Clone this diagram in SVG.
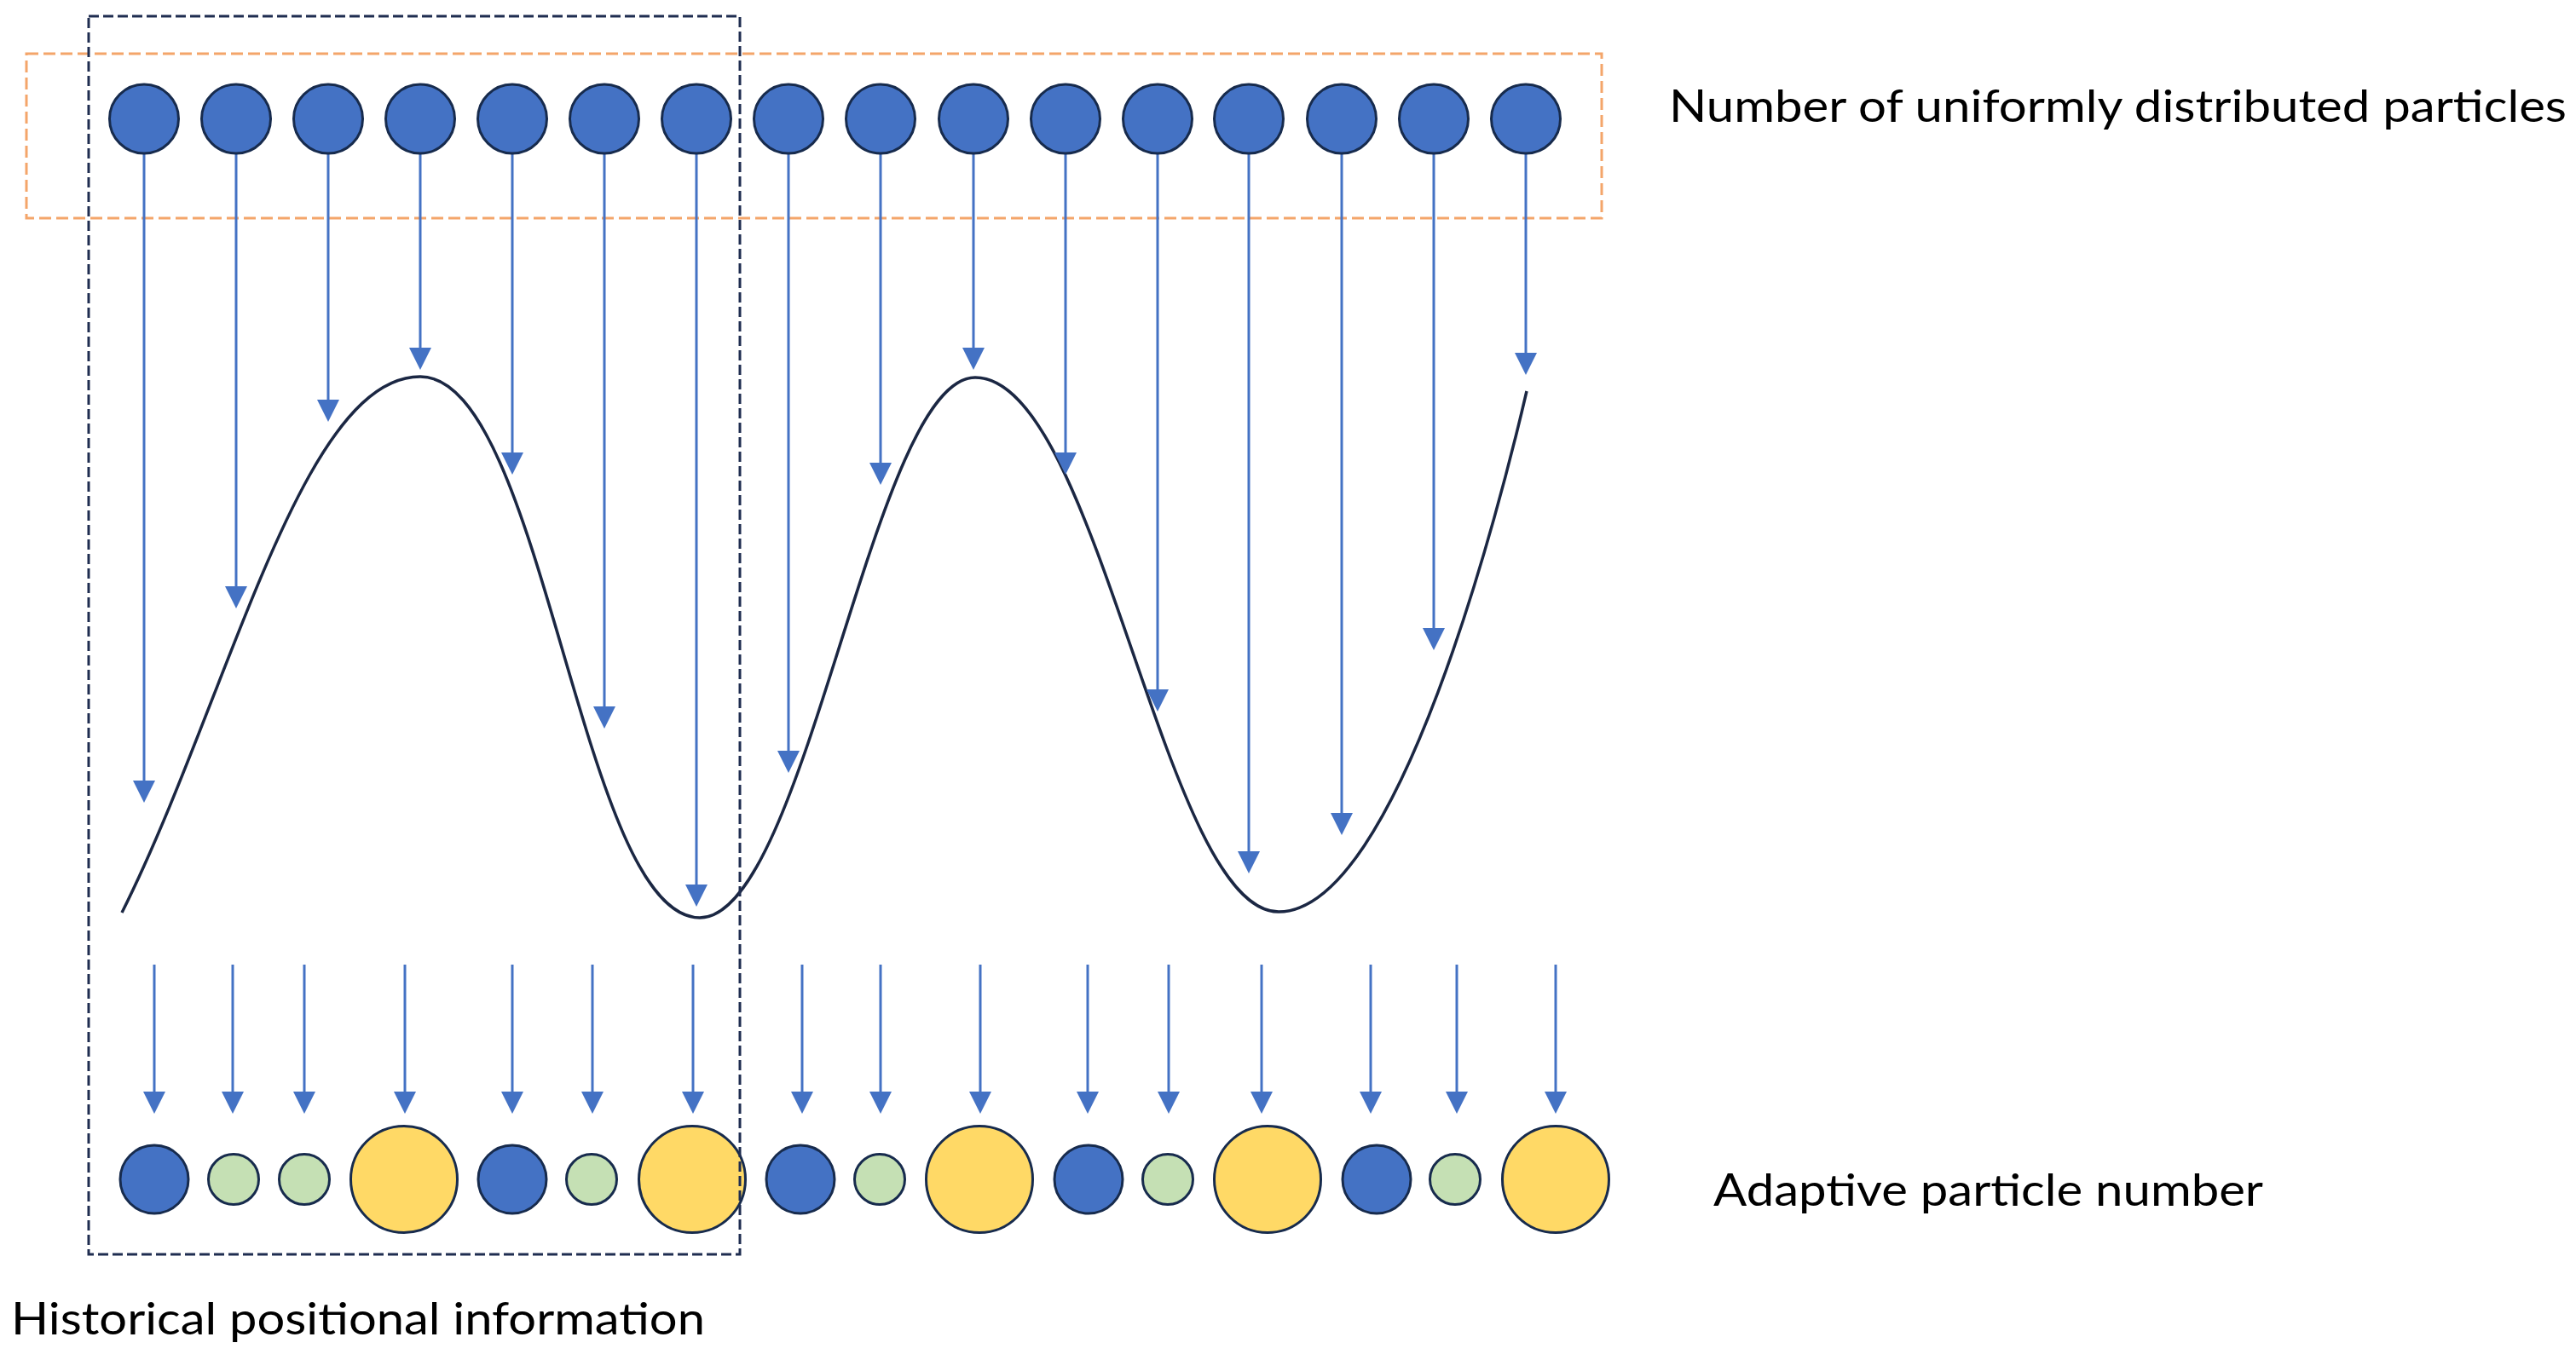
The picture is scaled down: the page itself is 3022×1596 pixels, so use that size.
<svg xmlns="http://www.w3.org/2000/svg" width="3022" height="1596" viewBox="0 0 3022 1596">
<style>
.bg{fill:#ffffff}
.p{stroke:#172B4D;stroke-width:3}
.blue{fill:#4472C4}
.green{fill:#C5E0B4}
.yellow{fill:#FFD966}
.arr{stroke:#4472C4;stroke-width:3;fill:none;marker-end:url(#ah)}
.curve{fill:none;stroke:#1B2743;stroke-width:3.5}
.hbox{fill:none;stroke:#1F2D50;stroke-width:3;stroke-dasharray:12 5}
.ubox{fill:none;stroke:#F4A56A;stroke-width:3;stroke-dasharray:14 6}
.lbl{font-family:Lato,"Open Sans","Liberation Sans",sans-serif;font-size:53px;fill:#000000}
</style>
<defs>
<marker id="ah" markerUnits="userSpaceOnUse" markerWidth="28" markerHeight="28" refX="2" refY="13" orient="auto">
<path d="M0,0 L26,13 L0,26 z" fill="#4472C4"/>
</marker>
</defs>
<rect class="bg" x="0" y="0" width="3022" height="1596"/>

<g id="uniform-box"><rect class="ubox" x="31" y="63" width="1848" height="193"/></g>

<g id="curve"><path class="curve" d="M143,1071 C268,821 353,442 493,442 C638,442 681,1077 821,1077 C946,1077 1024,443 1144,443 C1289,443 1365,1070 1500,1070 C1640,1070 1761,588 1791,459"/></g>

<g id="connectors">
<line class="arr" x1="169" y1="180" x2="169" y2="918"/>
<line class="arr" x1="277" y1="180" x2="277" y2="690"/>
<line class="arr" x1="385" y1="180" x2="385" y2="471"/>
<line class="arr" x1="493" y1="180" x2="493" y2="410"/>
<line class="arr" x1="601" y1="180" x2="601" y2="533"/>
<line class="arr" x1="709" y1="180" x2="709" y2="831"/>
<line class="arr" x1="817" y1="180" x2="817" y2="1040"/>
<line class="arr" x1="925" y1="180" x2="925" y2="883"/>
<line class="arr" x1="1033" y1="180" x2="1033" y2="545"/>
<line class="arr" x1="1142" y1="180" x2="1142" y2="410"/>
<line class="arr" x1="1250" y1="180" x2="1250" y2="533"/>
<line class="arr" x1="1358" y1="180" x2="1358" y2="811"/>
<line class="arr" x1="1465" y1="180" x2="1465" y2="1001"/>
<line class="arr" x1="1574" y1="180" x2="1574" y2="956"/>
<line class="arr" x1="1682" y1="180" x2="1682" y2="739"/>
<line class="arr" x1="1790" y1="180" x2="1790" y2="416"/>

<line class="arr" x1="181" y1="1132" x2="181" y2="1283"/>
<line class="arr" x1="273" y1="1132" x2="273" y2="1283"/>
<line class="arr" x1="357" y1="1132" x2="357" y2="1283"/>
<line class="arr" x1="475" y1="1132" x2="475" y2="1283"/>
<line class="arr" x1="601" y1="1132" x2="601" y2="1283"/>
<line class="arr" x1="695" y1="1132" x2="695" y2="1283"/>
<line class="arr" x1="813" y1="1132" x2="813" y2="1283"/>
<line class="arr" x1="941" y1="1132" x2="941" y2="1283"/>
<line class="arr" x1="1033" y1="1132" x2="1033" y2="1283"/>
<line class="arr" x1="1150" y1="1132" x2="1150" y2="1283"/>
<line class="arr" x1="1276" y1="1132" x2="1276" y2="1283"/>
<line class="arr" x1="1371" y1="1132" x2="1371" y2="1283"/>
<line class="arr" x1="1480" y1="1132" x2="1480" y2="1283"/>
<line class="arr" x1="1608" y1="1132" x2="1608" y2="1283"/>
<line class="arr" x1="1709" y1="1132" x2="1709" y2="1283"/>
<line class="arr" x1="1825" y1="1132" x2="1825" y2="1283"/>
</g>

<g id="top-particles">
<g id="top-p1"><circle class="p blue" cx="169" cy="139.5" r="40.5"/></g>
<g id="top-p2"><circle class="p blue" cx="277" cy="139.5" r="40.5"/></g>
<g id="top-p3"><circle class="p blue" cx="385" cy="139.5" r="40.5"/></g>
<g id="top-p4"><circle class="p blue" cx="493" cy="139.5" r="40.5"/></g>
<g id="top-p5"><circle class="p blue" cx="601" cy="139.5" r="40.5"/></g>
<g id="top-p6"><circle class="p blue" cx="709" cy="139.5" r="40.5"/></g>
<g id="top-p7"><circle class="p blue" cx="817" cy="139.5" r="40.5"/></g>
<g id="top-p8"><circle class="p blue" cx="925" cy="139.5" r="40.5"/></g>
<g id="top-p9"><circle class="p blue" cx="1033" cy="139.5" r="40.5"/></g>
<g id="top-p10"><circle class="p blue" cx="1142" cy="139.5" r="40.5"/></g>
<g id="top-p11"><circle class="p blue" cx="1250" cy="139.5" r="40.5"/></g>
<g id="top-p12"><circle class="p blue" cx="1358" cy="139.5" r="40.5"/></g>
<g id="top-p13"><circle class="p blue" cx="1465" cy="139.5" r="40.5"/></g>
<g id="top-p14"><circle class="p blue" cx="1574" cy="139.5" r="40.5"/></g>
<g id="top-p15"><circle class="p blue" cx="1682" cy="139.5" r="40.5"/></g>
<g id="top-p16"><circle class="p blue" cx="1790" cy="139.5" r="40.5"/></g>
</g>

<g id="bottom-particles">
<g id="bot-p1"><circle class="p blue" cx="181" cy="1384" r="40"/></g>
<g id="bot-p2"><circle class="p green" cx="274" cy="1384" r="29.5"/></g>
<g id="bot-p3"><circle class="p green" cx="357" cy="1384" r="29.5"/></g>
<g id="bot-p4"><circle class="p yellow" cx="474" cy="1384" r="62.5"/></g>
<g id="bot-p5"><circle class="p blue" cx="601" cy="1384" r="40"/></g>
<g id="bot-p6"><circle class="p green" cx="694" cy="1384" r="29.5"/></g>
<g id="bot-p7"><circle class="p yellow" cx="812" cy="1384" r="62.5"/></g>
<g id="bot-p8"><circle class="p blue" cx="939" cy="1384" r="40"/></g>
<g id="bot-p9"><circle class="p green" cx="1032" cy="1384" r="29.5"/></g>
<g id="bot-p10"><circle class="p yellow" cx="1149" cy="1384" r="62.5"/></g>
<g id="bot-p11"><circle class="p blue" cx="1277" cy="1384" r="40"/></g>
<g id="bot-p12"><circle class="p green" cx="1370" cy="1384" r="29.5"/></g>
<g id="bot-p13"><circle class="p yellow" cx="1487" cy="1384" r="62.5"/></g>
<g id="bot-p14"><circle class="p blue" cx="1615" cy="1384" r="40"/></g>
<g id="bot-p15"><circle class="p green" cx="1707" cy="1384" r="29.5"/></g>
<g id="bot-p16"><circle class="p yellow" cx="1825" cy="1384" r="62.5"/></g>
</g>

<g id="historical-box"><rect class="hbox" x="104" y="19" width="764" height="1453"/></g>

<g id="label-uniform"><text class="lbl" x="1958" y="143" font-size="55" textLength="1053" lengthAdjust="spacingAndGlyphs">Number of uniformly distributed particles</text></g>
<g id="label-adaptive"><text class="lbl" x="2010" y="1415" textLength="645" lengthAdjust="spacingAndGlyphs">Adaptive particle number</text></g>
<g id="label-historical"><text class="lbl" x="13" y="1566" textLength="814" lengthAdjust="spacingAndGlyphs">Historical positional information</text></g>
</svg>
